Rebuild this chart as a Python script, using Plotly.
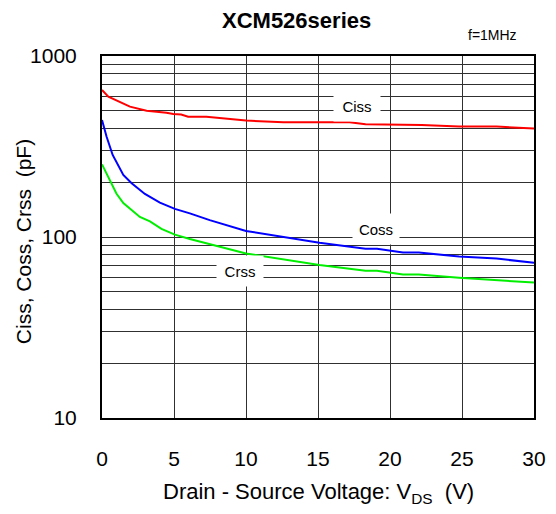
import math
import plotly.graph_objects as go

ciss_x = [0, 0.44, 1.94, 3.1, 4.48, 4.95, 5.5, 5.98, 7.25, 10.0, 12.6, 17.2, 18.3, 22.2, 24.8, 27.4, 30]
ciss_y = [649, 596, 525, 499, 486, 478, 475, 462, 462, 440, 431, 431, 420, 416, 408, 408, 397]

coss_x = [0, 0.32, 0.74, 1.25, 1.48, 2.06, 2.98, 4.02, 4.5, 5.06, 6.1, 7.48, 10.0, 15.1, 18.3, 19.1, 20.9, 22.0, 24.8, 27.4, 30]
coss_y = [443, 358, 284, 240, 220, 198, 173, 155, 150, 143, 135, 124, 108, 93, 86, 86, 82, 82, 78, 76, 72]

crss_x = [0, 0.55, 1.0, 1.48, 2.63, 3.33, 4.13, 5.06, 6.1, 10.0, 15.1, 18.3, 19.1, 20.9, 22.0, 24.8, 30]
crss_y = [252, 207, 174, 154, 129, 122, 111, 103, 97.5, 81, 70, 65, 65, 62, 62, 59.6, 56]

x_ticks = [0, 5, 10, 15, 20, 25, 30]
y_grid = [v * m for m in (10, 100) for v in range(1, 10)] + [1000]
y_labels = {10: "10", 100: "100", 1000: "1000"}

labels = [("Ciss", 17.7, 529), ("Coss", 19.0, 111), ("Crss", 9.55, 65)]

FONT = "Liberation Sans, Arial, sans-serif"

fig = go.Figure()
for xs, ys, col in [(ciss_x, ciss_y, "#FF0000"), (coss_x, coss_y, "#0000FF"), (crss_x, crss_y, "#00EE00")]:
    fig.add_trace(go.Scatter(x=xs, y=ys, mode="lines", line=dict(color=col, width=2), showlegend=False))

for txt, xv, yv in labels:
    fig.add_annotation(x=xv, y=math.log10(yv), yref="y", xref="x", text=txt, showarrow=False,
                       bgcolor="white", width=44, height=28,
                       font=dict(family=FONT, size=15, color="black"))

fig.add_annotation(x=0.451, y=1.098, xref="paper", yref="paper", yanchor="middle",
                   text="<b>XCM526series</b>", showarrow=False,
                   font=dict(family=FONT, size=22, color="black"))
fig.add_annotation(x=0.903, y=1.058, xref="paper", yref="paper", xanchor="center", yanchor="middle",
                   text="f=1MHz", showarrow=False,
                   font=dict(family=FONT, size=14, color="black"))
fig.add_annotation(x=0.5, y=-0.206, xref="paper", yref="paper", xanchor="center", yanchor="middle",
                   text="Drain - Source Voltage: V<sub>DS</sub>&nbsp;&nbsp;(V)", showarrow=False,
                   font=dict(family=FONT, size=22, color="black"))
fig.add_annotation(x=-0.181, y=0.488, xref="paper", yref="paper", xanchor="center", yanchor="middle",
                   textangle=-90, text="Ciss, Coss, Crss&nbsp;&nbsp;(pF)", showarrow=False,
                   font=dict(family=FONT, size=21, color="black"))

fig.update_layout(
    width=556, height=514,
    margin=dict(l=102, r=22, t=56, b=96, autoexpand=False),
    paper_bgcolor="white", plot_bgcolor="white",
    font=dict(family=FONT, size=21, color="black"),
    xaxis=dict(range=[0, 30], tickvals=x_ticks, showgrid=True, gridcolor="#303030", gridwidth=1,
               showline=True, linecolor="black", linewidth=2, mirror=True, zeroline=False,
               ticks="", ticklabelstandoff=21, automargin=False),
    yaxis=dict(type="log", range=[1, 3], tickvals=y_grid,
               ticktext=[y_labels.get(v, "") for v in y_grid],
               showgrid=True, gridcolor="#303030", gridwidth=1,
               showline=True, linecolor="black", linewidth=2, mirror=True, zeroline=False,
               ticks="", ticklabelstandoff=19, automargin=False),
)

fig.write_html("out.html", config={"displayModeBar": False},
               post_script="document.body.style.margin='0';document.body.style.overflow='hidden';")
